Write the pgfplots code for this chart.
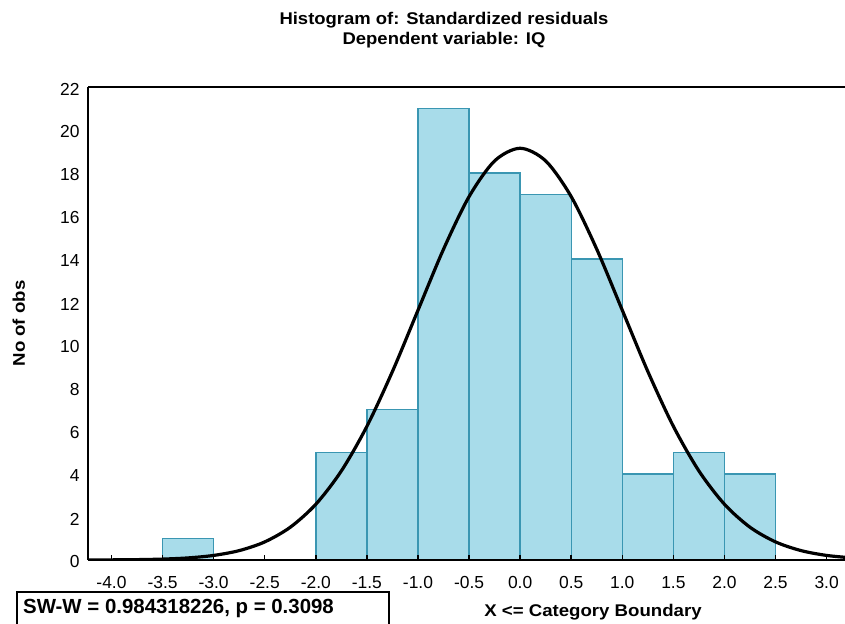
\documentclass[border=0pt]{standalone}
\usepackage{fontspec}
\setmainfont{Liberation Sans}
\newfontfamily\titlefont[FakeStretch=1.09]{Liberation Sans}
\newfontfamily\labelfont[FakeStretch=1.1]{Liberation Sans}
\usepackage{pgfplots}
\pgfplotsset{compat=1.18}
\definecolor{barfill}{RGB}{168,220,234}
\definecolor{baredge}{RGB}{58,150,178}

\begin{document}
\begin{tikzpicture}[x=1bp,y=1bp]
\path[use as bounding box] (-88,-64) rectangle (757,560);
\begin{axis}[
  at={(0,0)}, anchor=south west, scale only axis,
  width=757bp, height=473bp,
  xmin=-4.23, xmax=3.18, ymin=0, ymax=22,
  axis lines=left, axis line style={-, line width=1.6bp},
  axis on top,
  xtick={-4,-3.5,-3,-2.5,-2,-1.5,-1,-0.5,0,0.5,1,1.5,2,2.5,3},
  xticklabels={-4.0,-3.5,-3.0,-2.5,-2.0,-1.5,-1.0,-0.5,0.0,0.5,1.0,1.5,2.0,2.5,3.0},
  ytick={0,2,...,22},
  tick align=inside, major tick length=5bp,
  x tick style={line width=1.5bp, black},
  y tick style={draw=none},
  xtick pos=bottom, ytick pos=left,
  ticklabel style={font=\fontsize{17.5}{20}\selectfont},
  xticklabel style={anchor=base, yshift=-29bp},
  yticklabel style={anchor=east, xshift=-5bp, yshift=-2bp},
  /pgf/number format/assume math mode=true,
  clip=true,
]
% observed counts per half-unit bin
\addplot[ybar interval, fill=barfill, draw=baredge, line width=1.4bp] coordinates {
  (-3.5,1) (-3.0,0) (-2.5,0) (-2.0,5) (-1.5,7) (-1.0,21) (-0.5,18)
  (0.0,17) (0.5,14) (1.0,4) (1.5,5) (2.0,4) (2.5,0)
};
% expected counts under the fitted normal curve
\addplot[black, line width=3.2bp, smooth] coordinates {
  (-4.25,0.0023) (-4.0,0.0064) (-3.75,0.0169) (-3.5,0.0419) (-3.25,0.0974)
  (-3.0,0.2127) (-2.75,0.4365) (-2.5,0.8415) (-2.25,1.524) (-2.0,2.592)
  (-1.75,4.142) (-1.5,6.217) (-1.25,8.768) (-1.0,11.615) (-0.75,14.455)
  (-0.5,16.900) (-0.25,18.561) (0.0,19.15) (0.25,18.561) (0.5,16.900)
  (0.75,14.455) (1.0,11.615) (1.25,8.768) (1.5,6.217) (1.75,4.142)
  (2.0,2.592) (2.25,1.524) (2.5,0.8415) (2.75,0.4365) (3.0,0.2127)
  (3.25,0.0974)
};
\end{axis}
% top border of the plot frame
\draw[line width=1.6bp] (0,473) -- (757,473);
% titles
\node[font=\titlefont\bfseries\fontsize{17}{20}\selectfont, anchor=base] at (356,535) {Histogram of: Standardized residuals};
\node[font=\titlefont\bfseries\fontsize{17}{20}\selectfont, anchor=base] at (356,515) {Dependent variable: IQ};
% axis titles
\node[font=\labelfont\bfseries\fontsize{17}{20}\selectfont, rotate=90, anchor=base] at (-63,236.5) {No of obs};
\node[font=\labelfont\bfseries\fontsize{17}{20}\selectfont, anchor=base] at (505,-57) {X <= Category Boundary};
% Shapiro-Wilk result box
\draw[line width=1.5bp] (-71,-80) rectangle (301,-32);
\node[font=\bfseries\fontsize{20.5}{24}\selectfont, anchor=base west, inner sep=0pt] at (-65,-54) {SW-W = 0.984318226, p = 0.3098};
\end{tikzpicture}
\end{document}
